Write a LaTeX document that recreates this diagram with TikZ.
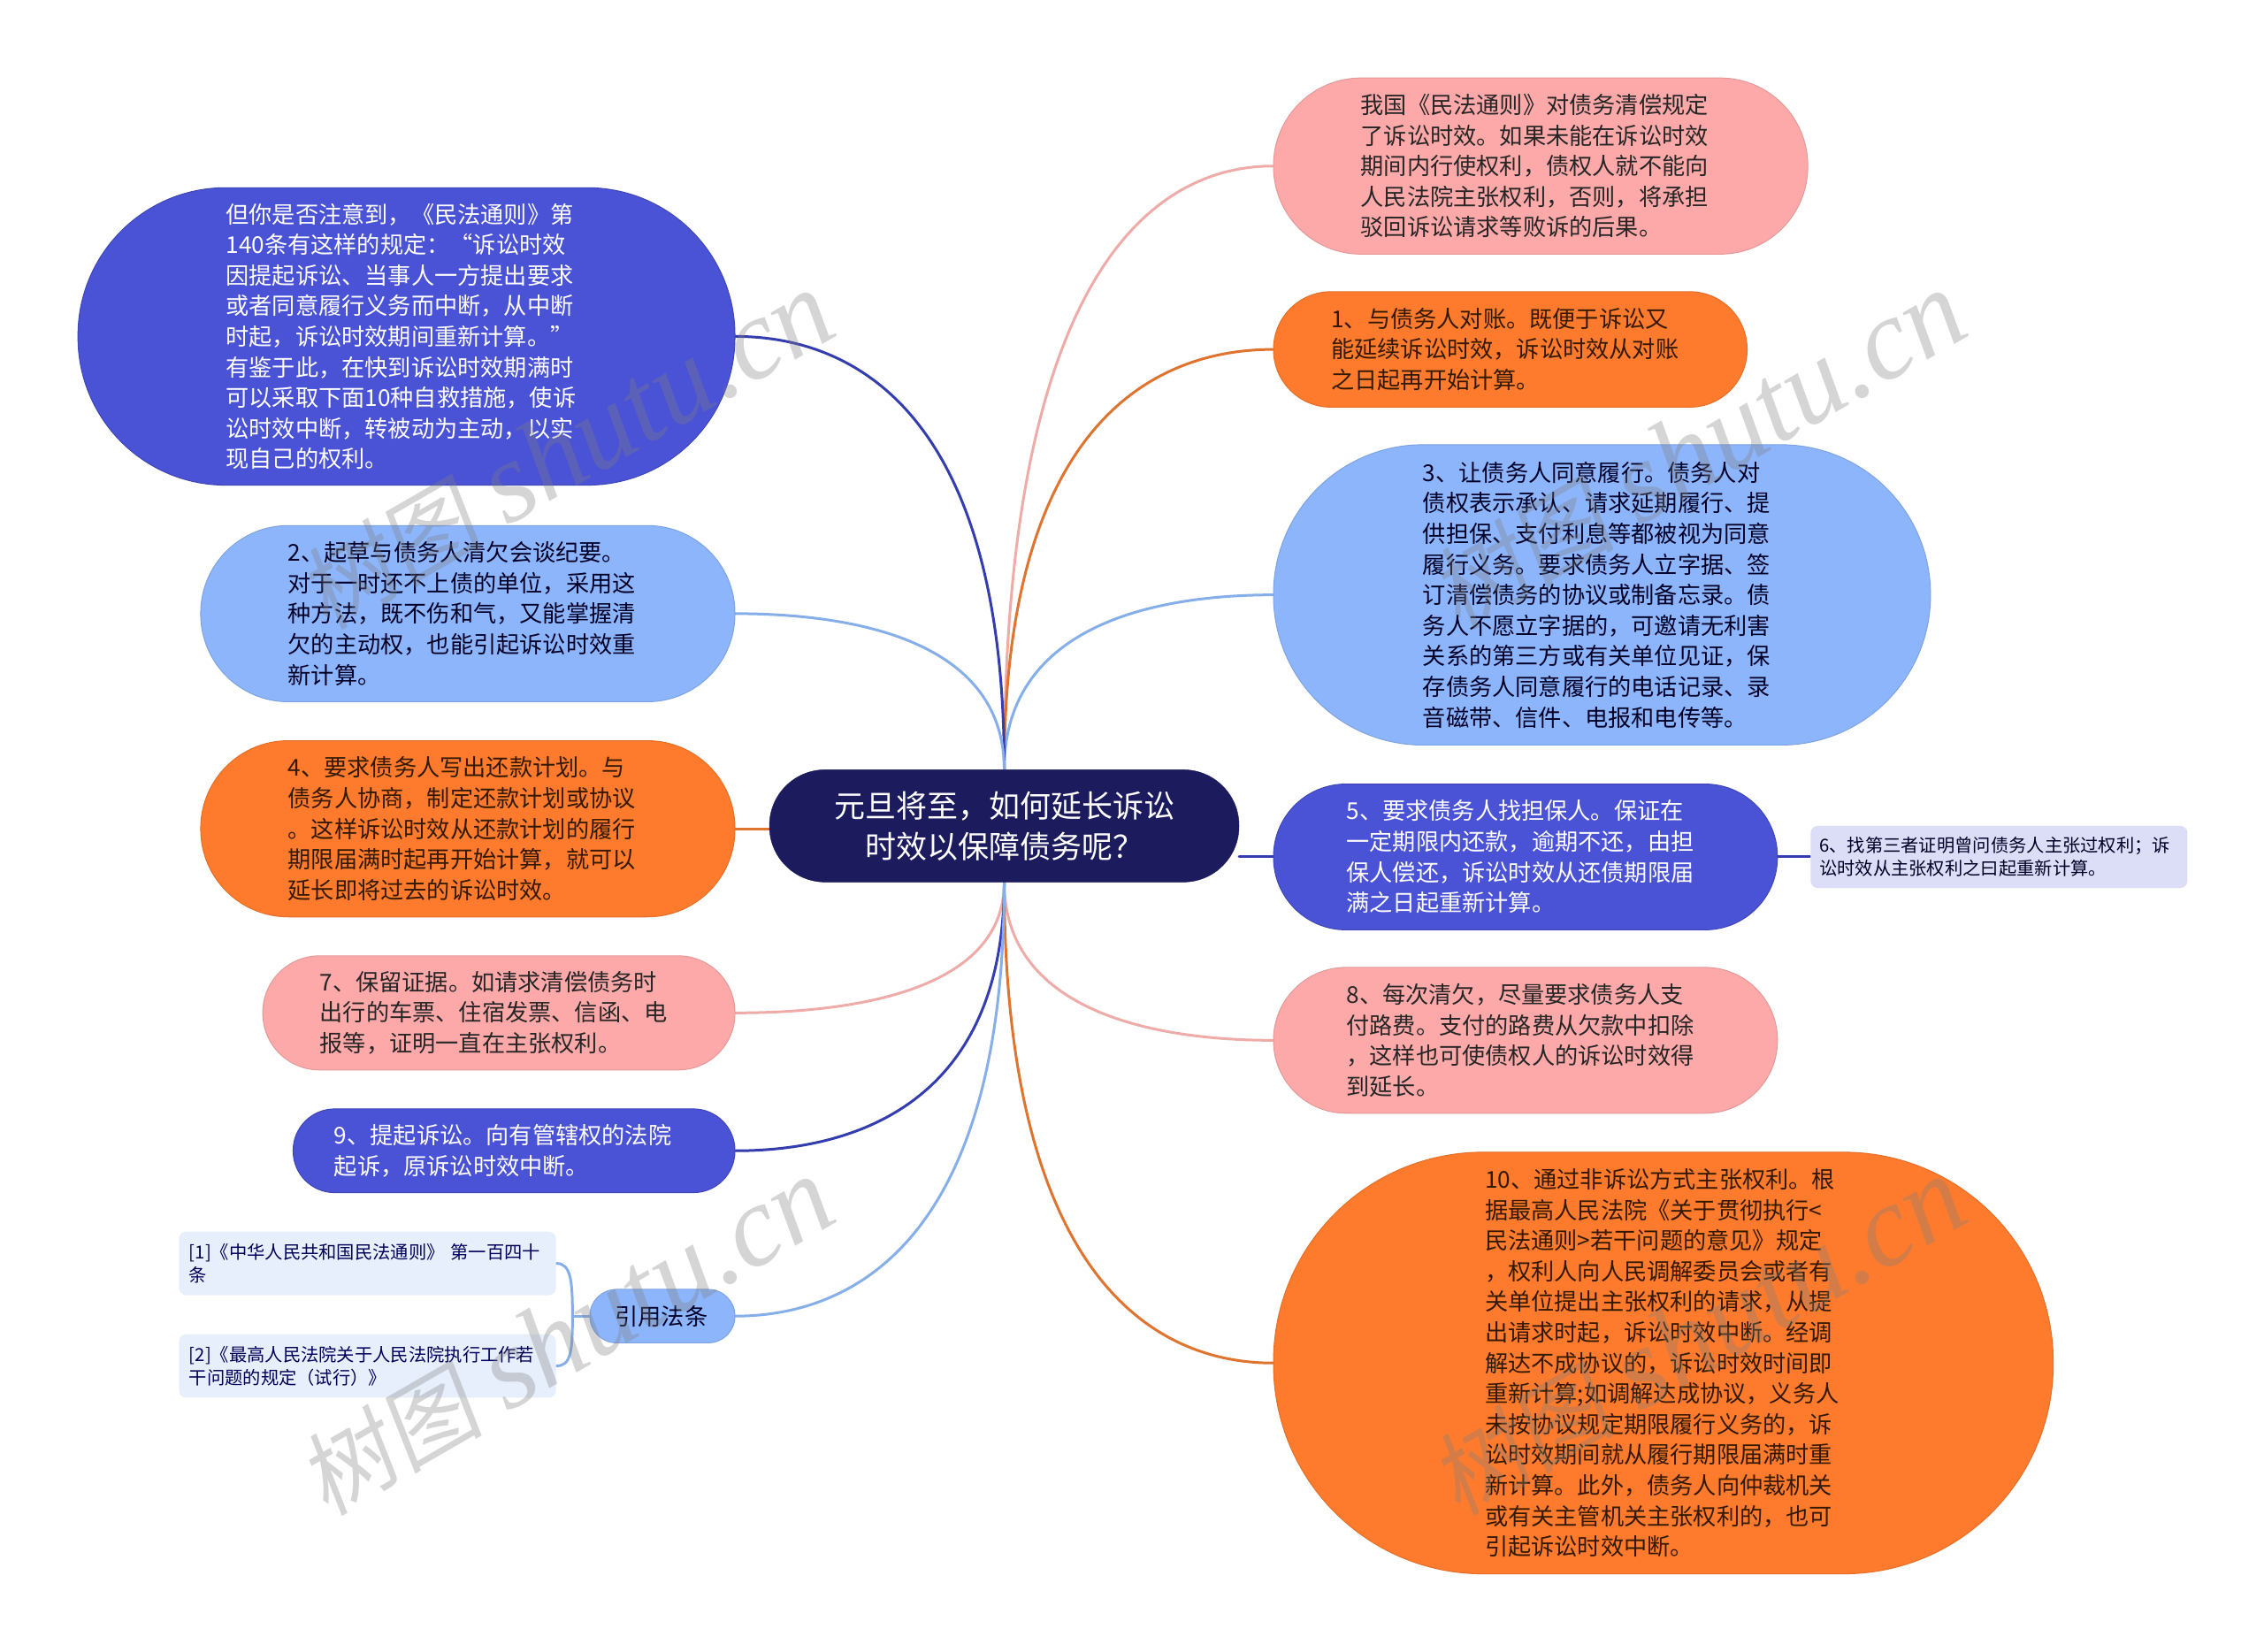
\documentclass[tikz,border=0pt]{standalone}
\usepackage{fontspec}
\usetikzlibrary{backgrounds}
\setmainfont{Noto Sans CJK SC}
\newfontfamily\wmcjk[FakeSlant=0.15]{Noto Sans CJK SC}
\newfontfamily\wmlat{Liberation Serif}[ItalicFont=* Italic]
\definecolor{cblue}{HTML}{4A52D6}
\definecolor{clight}{HTML}{8CB5FB}
\definecolor{corange}{HTML}{FE7B2D}
\definecolor{cpink}{HTML}{FEA9A9}
\definecolor{cnavy}{HTML}{1B1B5E}
\definecolor{cpale}{HTML}{E8EFFC}
\definecolor{clav}{HTML}{DCDEF7}
\definecolor{lblue}{HTML}{343DAF}
\definecolor{llight}{HTML}{86AFE9}
\definecolor{lorange}{HTML}{DF7430}
\definecolor{lpink}{HTML}{EFABA8}
\tikzset{
  bignode/.style={font=\fontsize{26.2}{34.6}\selectfont},
  smallnode/.style={font=\fontsize{20.3}{26}\selectfont},
  bluenode/.style={bignode,fill=cblue,draw=cblue!85!black,text=white},
  lightnode/.style={bignode,fill=clight,draw=clight!90!black,text=black!85!blue},
  orangenode/.style={bignode,fill=corange,draw=corange!90!black,text=black!80!orange},
  pinknode/.style={bignode,fill=cpink,draw=cpink!90!black,text=black!85},
  palenode/.style={smallnode,fill=cpale,text=blue!35!black},
  lavnode/.style={smallnode,fill=clav,text=black!85!blue},
  wire/.style={line width=3pt,line cap=round},
  watermark/.style={text=gray,opacity=.33,rotate=30,inner sep=0}
}
% name, x0, y0, x1, y1, style, corner radius, text left, text
\newcommand{\mapnode}[9]{%
  \pgfmathsetmacro{\mw}{(#4-#2)*1.6327}%
  \pgfmathsetmacro{\mh}{(#5-#3)*1.6327}%
  \pgfmathsetmacro{\ms}{(#8-#2)*1.6327}%
  \node[#6,rounded corners=#7,inner sep=0pt,line width=1pt,minimum height=\mh pt,
        text width=\mw pt,align=left] (#1) at ({(#2+#4)/2},{(#3+#5)/2})
        {\leftskip=\ms pt #9\par};%
}
\begin{document}
\begin{tikzpicture}[x=1.6327pt,y=-1.6327pt]
\useasboundingbox (0,0) rectangle (1568,1144);
% centre
\node[fill=cnavy,draw=cnavy,text=white,rounded corners=63pt,minimum width=531pt,minimum height=127pt,
      inner sep=0pt,align=center,font=\fontsize{35}{46}\selectfont] (c) at (695.5,572)
      {元旦将至，如何延长诉讼\\时效以保障债务呢？};
% left
\mapnode{a}{54}{130}{509}{336}{bluenode}{167pt}{156.5}{但你是否注意到，《民法通则》第\\140条有这样的规定：“诉讼时效\\因提起诉讼、当事人一方提出要求\\或者同意履行义务而中断，从中断\\时起，诉讼时效期间重新计算。”\\有鉴于此，在快到诉讼时效期满时\\可以采取下面10种自救措施，使诉\\讼时效中断，转被动为主动，以实\\现自己的权利。}
\mapnode{b}{139}{364}{509}{486}{lightnode}{99pt}{199.5}{2、起草与债务人清欠会谈纪要。\\对于一时还不上债的单位，采用这\\种方法，既不伤和气，又能掌握清\\欠的主动权，也能引起诉讼时效重\\新计算。}
\mapnode{d}{139}{513}{509}{635}{orangenode}{99pt}{199.5}{4、要求债务人写出还款计划。与\\债务人协商，制定还款计划或协议\\。这样诉讼时效从还款计划的履行\\期限届满时起再开始计算，就可以\\延长即将过去的诉讼时效。}
\mapnode{g}{182}{662}{509}{741}{pinknode}{64pt}{221.5}{7、保留证据。如请求清偿债务时\\出行的车票、住宿发票、信函、电\\报等，证明一直在主张权利。}
\mapnode{i}{203}{768}{509}{826}{bluenode}{47pt}{231.5}{9、提起诉讼。向有管辖权的法院\\起诉，原诉讼时效中断。}
\mapnode{law}{408.5}{893}{509}{930}{lightnode}{30pt}{426}{引用法条}
\mapnode{lawa}{124}{853}{385}{897}{palenode}{8pt}{131}{[1]《中华人民共和国民法通则》 第一百四十\\条}
\mapnode{lawb}{124}{924}{385}{968}{palenode}{8pt}{131}{[2]《最高人民法院关于人民法院执行工作若\\干问题的规定（试行）》}
% right
\mapnode{ra}{882}{54}{1252}{176}{pinknode}{99pt}{942.5}{我国《民法通则》对债务清偿规定\\了诉讼时效。如果未能在诉讼时效\\期间内行使权利，债权人就不能向\\人民法院主张权利，否则，将承担\\驳回诉讼请求等败诉的后果。}
\mapnode{rb}{882}{202}{1210}{282}{orangenode}{65pt}{922}{1、与债务人对账。既便于诉讼又\\能延续诉讼时效，诉讼时效从对账\\之日起再开始计算。}
\mapnode{rc}{882}{308}{1337}{516}{lightnode}{169pt}{985.5}{3、让债务人同意履行。债务人对\\债权表示承认、请求延期履行、提\\供担保、支付利息等都被视为同意\\履行义务。要求债务人立字据、签\\订清偿债务的协议或制备忘录。债\\务人不愿立字据的，可邀请无利害\\关系的第三方或有关单位见证，保\\存债务人同意履行的电话记录、录\\音磁带、信件、电报和电传等。}
\mapnode{re}{882}{543}{1231}{644}{bluenode}{82pt}{932.5}{5、要求债务人找担保人。保证在\\一定期限内还款，逾期不还，由担\\保人偿还，诉讼时效从还债期限届\\满之日起重新计算。}
\mapnode{rf}{1254}{572}{1515}{615}{lavnode}{8pt}{1260}{6、找第三者证明曾问债务人主张过权利；诉\\讼时效从主张权利之曰起重新计算。}
\mapnode{rh}{882}{670}{1231}{771}{pinknode}{82pt}{932.5}{8、每次清欠，尽量要求债务人支\\付路费。支付的路费从欠款中扣除\\，这样也可使债权人的诉讼时效得\\到延长。}
\mapnode{rj}{882}{798}{1422}{1090}{orangenode}{237pt}{1028.5}{10、通过非诉讼方式主张权利。根\\据最高人民法院《关于贯彻执行<\\民法通则>若干问题的意见》规定\\，权利人向人民调解委员会或者有\\关单位提出主张权利的请求，从提\\出请求时起，诉讼时效中断。经调\\解达不成协议的，诉讼时效时间即\\重新计算;如调解达成协议，义务人\\未按协议规定期限履行义务的，诉\\讼时效期间就从履行期限届满时重\\新计算。此外，债务人向仲裁机关\\或有关主管机关主张权利的，也可\\引起诉讼时效中断。}
\coordinate (lawjoin) at (396.5,911.5);
\begin{scope}[on background layer]
  \fill[white] (0,0) rectangle (1568,1144);
  % upward branches
  \draw[wire,lpink]   (c.north) .. controls +(0,-335) and +(-88,0) .. (ra.west);
  \draw[wire,lorange] (c.north) .. controls +(0,-233) and +(-88,0) .. (rb.west);
  \draw[wire,llight]  (c.north) .. controls +(0,-97) and +(-88,0) .. (rc.west);
  \draw[wire,lblue]   (c.north) .. controls +(0,-240) and +(88,0) .. (a.east);
  \draw[wire,llight]  (c.north) .. controls +(0,-87) and +(88,0) .. (b.east);
  % downward branches
  \draw[wire,lpink]   (c.south) .. controls +(0,87) and +(-88,0) .. (rh.west);
  \draw[wire,lorange] (c.south) .. controls +(0,266) and +(-88,0) .. (rj.west);
  \draw[wire,lpink]   (c.south) .. controls +(0,73) and +(88,0) .. (g.east);
  \draw[wire,lblue]   (c.south) .. controls +(0,149) and +(88,0) .. (i.east);
  \draw[wire,llight]  (c.south) .. controls +(0,240) and +(88,0) .. (law.east);
  % straight
  \draw[wire,lorange] (d.east) -- (d.east -| c.west);
  \draw[wire,lblue]   (re.west) -- (re.west -| c.east);
  \draw[wire,lblue]   (re.east) -- (re.east -| rf.west);
  % law bracket
  \draw[wire,llight]  (lawa.east) .. controls +(10,0) and +(0,-25) .. (lawjoin);
  \draw[wire,llight]  (lawb.east) .. controls +(10,0) and +(0,25) .. (lawjoin);
  \draw[wire,llight]  (lawjoin) -- (law.west);
\end{scope}
% watermarks
\foreach \wx/\wy/\wn in {392/312/wa,392/926/wb,1176/312/wc,1176/926/wd}{
  \node[watermark] (\wn) at (\wx,\wy) {{\wmcjk\fontsize{104}{104}\selectfont 树图}\hspace{28pt}{\wmlat\itshape\fontsize{130}{130}\selectfont shutu.cn}};
}
\end{tikzpicture}
\end{document}
